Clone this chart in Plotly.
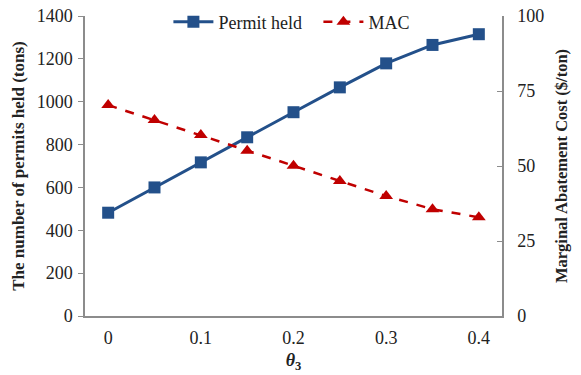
import plotly.graph_objects as go

theta = [0, 0.05, 0.1, 0.15, 0.2, 0.25, 0.3, 0.35, 0.4]
permit_held = [482, 600, 717, 834, 951, 1067, 1179, 1265, 1315]
mac = [70.3, 65.3, 60.3, 55.1, 50.1, 45.0, 40.0, 35.6, 32.9]
x_ticks = [0, 0.1, 0.2, 0.3, 0.4]
x_tick_labels = ["0", "0.1", "0.2", "0.3", "0.4"]

FONT = "Liberation Serif, Times New Roman, serif"
BLUE = "#23508A"
RED = "#C00000"
AXIS = "#8C8C8C"

fig = go.Figure()
fig.add_trace(go.Scatter(
    x=theta, y=permit_held, name="Permit held", mode="lines+markers",
    line=dict(color=BLUE, width=3),
    marker=dict(symbol="square", size=12, color=BLUE),
))
fig.add_trace(go.Scatter(
    x=theta, y=mac, name="MAC", mode="lines+markers", yaxis="y2",
    line=dict(color=RED, width=2.5, dash="dash"),
    marker=dict(symbol="triangle-up", size=12, color=RED),
))

fig.update_layout(
    width=581, height=375,
    margin=dict(l=85, r=79, t=16, b=59, autoexpand=False),
    paper_bgcolor="white", plot_bgcolor="white",
    font=dict(family=FONT, size=18, color="#222222"),
    showlegend=True,
    legend=dict(orientation="h", x=0.2, xanchor="left", y=0.98, yanchor="middle",
                bgcolor="rgba(0,0,0,0)", font=dict(size=18, family=FONT),
                itemwidth=40, traceorder="normal", entrywidth=95, entrywidthmode="pixels"),
    xaxis=dict(
        range=[-0.025, 0.425], tickvals=x_ticks, ticktext=x_tick_labels,
        showline=True, linecolor=AXIS, linewidth=1.5, showgrid=False, zeroline=False,
        ticks="", tickfont=dict(size=18, family=FONT), ticklabelstandoff=5,
        title=dict(text="<b><i>θ</i><sub>3</sub></b>", font=dict(size=18, family=FONT), standoff=6),
    ),
    yaxis=dict(
        range=[0, 1400], dtick=200, showline=True, linecolor=AXIS, linewidth=1.5,
        showgrid=False, zeroline=False, ticks="outside", ticklen=5, tickcolor=AXIS,
        tickfont=dict(size=18, family=FONT), ticklabelstandoff=2,
        title=dict(text="<b>The number of permits held (tons)</b>", font=dict(size=17, family=FONT), standoff=8),
    ),
    yaxis2=dict(
        range=[0, 100], dtick=25, overlaying="y", side="right", showline=True,
        linecolor=AXIS, linewidth=1.5, showgrid=False, zeroline=False,
        ticks="inside", ticklen=5, tickcolor=AXIS,
        tickfont=dict(size=18, family=FONT), ticklabelstandoff=10,
        title=dict(text="<b>Marginal Abatement Cost ($/ton)</b>", font=dict(size=16.5, family=FONT), standoff=12),
    ),
)

fig.write_html("out.html", config={"displayModeBar": False},
               post_script="document.body.style.margin='0';")
